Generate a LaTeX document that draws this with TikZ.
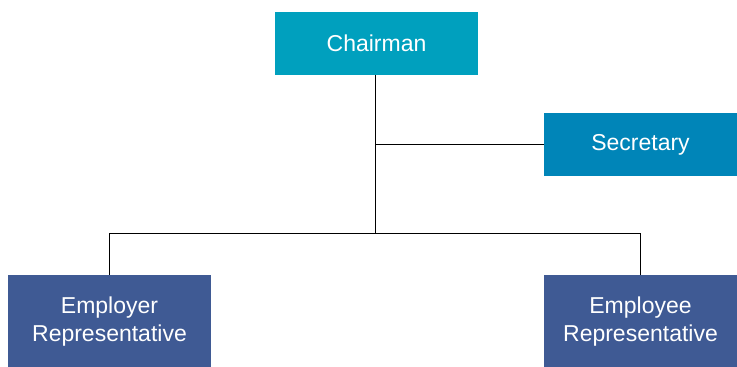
\documentclass[tikz,border=0pt]{standalone}
\usepackage{fontspec}
\setmainfont{Liberation Sans}
\definecolor{chaircol}{HTML}{00A0BE}
\definecolor{seccol}{HTML}{0085B8}
\definecolor{repcol}{HTML}{3F5A94}
\begin{document}
\begin{tikzpicture}[x=1pt,y=-1pt,
  box/.style={draw=none, text=white, inner sep=0pt, align=center,
    font=\fontsize{23}{28}\selectfont},
  link/.style={draw=black, line width=1pt}]
\useasboundingbox (0,0) rectangle (737,367);
\node[box, fill=chaircol, minimum width=203pt, minimum height=63pt] (chair) at (376.5,43.5) {Chairman};
\node[box, fill=seccol, minimum width=193pt, minimum height=63pt] (sec) at (640.5,144.5) {Secretary};
\node[box, fill=repcol, minimum width=203pt, minimum height=93pt] (emp1) at (109.5,321.5) {Employer\\Representative};
\node[box, fill=repcol, minimum width=193pt, minimum height=93pt] (emp2) at (640.5,321.5) {Employee\\Representative};
\coordinate (j) at (375,233);
\draw[link] (chair.south -| j) -- (j);
\draw[link] (sec.west) -- (sec.west -| j);
\draw[link] (j -| emp1.north) -- (j -| emp2.north);
\draw[link] (j -| emp1.north) -- (emp1.north);
\draw[link] (j -| emp2.north) -- (emp2.north);
\end{tikzpicture}
\end{document}
